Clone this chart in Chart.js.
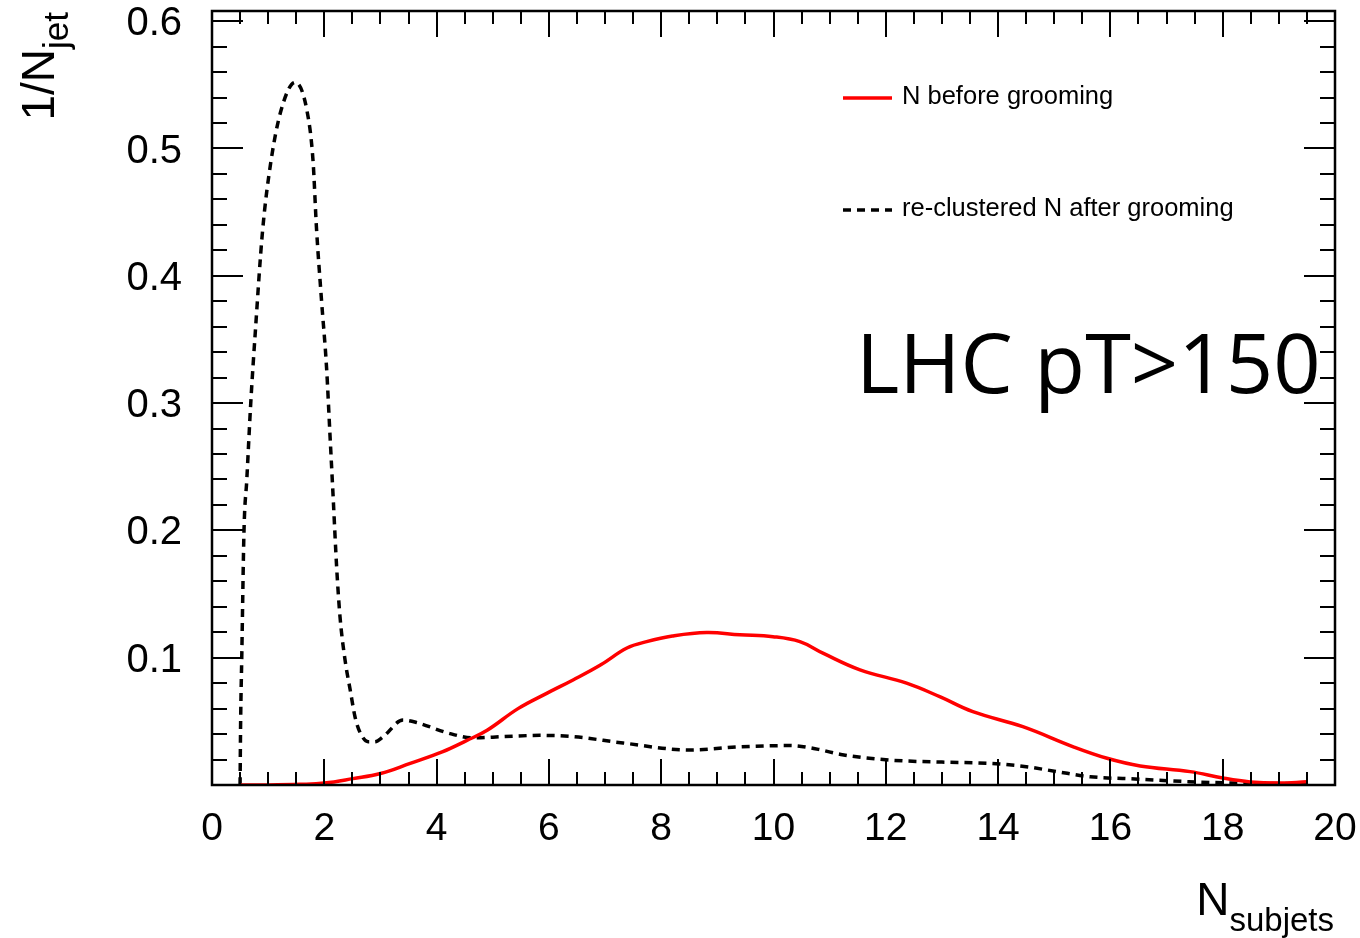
<!DOCTYPE html>
<html>
<head>
<meta charset="utf-8">
<script src="https://cdn.jsdelivr.net/npm/chart.js@4.4.0/dist/chart.umd.min.js"></script>
<style>
  html, body { margin: 0; padding: 0; background: #ffffff; }
  #wrap { width: 1360px; height: 938px; }
</style>
</head>
<body>
<div id="wrap"><canvas id="c" width="1360" height="938"></canvas></div>
<script>
// Subjet multiplicity, normalised per jet
const beforeX = [0.5, 1.0, 1.57, 2.0, 2.51, 3.0, 3.53, 4.1, 4.54, 4.9, 5.45, 5.96, 6.43, 6.91, 7.39, 7.74, 8.2, 8.81, 9.4, 9.99, 10.47, 10.88, 11.54, 12.37, 12.96, 13.55, 14.44, 15.34, 15.94, 16.53, 17.42, 18.0, 18.49, 19.0, 19.5];
const beforeY = [0, 0, 0.0005, 0.0015, 0.005, 0.009, 0.017, 0.026, 0.035, 0.043, 0.06, 0.072, 0.0825, 0.094, 0.1076, 0.1126, 0.117, 0.1197, 0.118, 0.1165, 0.1126, 0.1036, 0.0905, 0.080, 0.0694, 0.0576, 0.0458, 0.030, 0.021, 0.015, 0.0105, 0.0055, 0.0024, 0.0015, 0.0025];

const afterX = [0.5, 0.51, 0.53, 0.57, 0.62, 0.69, 0.77, 0.9, 1.05, 1.23, 1.48, 1.69, 1.8, 1.86, 1.95, 2.04, 2.1, 2.16, 2.22, 2.28, 2.37, 2.46, 2.55, 2.64, 2.78, 2.9, 3.05, 3.4, 3.65, 4.19, 4.65, 5.2, 5.84, 6.43, 7.32, 8.5, 9.4, 10.3, 10.8, 11.2, 12.07, 13.0, 13.55, 14.03, 14.5, 15.05, 15.64, 16.5, 17.4, 18.3, 19.5];
const afterY = [0, 0.05, 0.1, 0.2, 0.24, 0.3, 0.355, 0.435, 0.49, 0.53, 0.552, 0.53, 0.49, 0.438, 0.381, 0.328, 0.276, 0.224, 0.171, 0.132, 0.098, 0.075, 0.053, 0.041, 0.034, 0.034, 0.038, 0.051, 0.049, 0.041, 0.037, 0.038, 0.039, 0.038, 0.033, 0.0275, 0.030, 0.031, 0.028, 0.024, 0.0196, 0.018, 0.0175, 0.0165, 0.0144, 0.0105, 0.0065, 0.0046, 0.0026, 0.0015, 0.001];

const seriesNames = ['N before grooming', 're-clustered N after grooming'];
const xTickValues = [0, 2, 4, 6, 8, 10, 12, 14, 16, 18, 20];
const yTickValues = [0.1, 0.2, 0.3, 0.4, 0.5, 0.6];
const xTitle = ['N', 'subjets'];
const yTitle = ['1/N', 'jet'];
const annotationText = 'LHC pT>150';

const LABEL_FONT = 'Liberation Sans, Arial, Helvetica, sans-serif';

function pts(xs, ys) { return xs.map((x, i) => ({ x: x, y: ys[i] })); }

// ROOT-style frame with inward ticks on all four sides, titles, legend and caption
const frameDecor = {
  id: 'frameDecor',
  afterDraw(chart) {
    const ctx = chart.ctx;
    const a = chart.chartArea;
    const xs = chart.scales.x, ys = chart.scales.y;
    ctx.save();
    ctx.strokeStyle = '#000';
    ctx.lineCap = 'butt';

    // ticks
    ctx.lineWidth = 2;
    ctx.beginPath();
    for (let i = 0; i <= 40; i++) {
      const v = i * 0.5;
      const px = Math.round(xs.getPixelForValue(v));
      const len = (i % 4 === 0) ? 26 : 13;
      ctx.moveTo(px, a.bottom); ctx.lineTo(px, a.bottom - len);
      ctx.moveTo(px, a.top); ctx.lineTo(px, a.top + len);
    }
    for (let i = 0; i <= 30; i++) {
      const v = i * 0.02;
      const py = Math.round(ys.getPixelForValue(v));
      const len = (i % 5 === 0) ? 31 : 15;
      ctx.moveTo(a.left, py); ctx.lineTo(a.left + len, py);
      ctx.moveTo(a.right, py); ctx.lineTo(a.right - len, py);
    }
    ctx.stroke();

    // frame
    ctx.lineWidth = 2.5;
    ctx.strokeRect(a.left, a.top, a.right - a.left, a.bottom - a.top);

    ctx.fillStyle = '#000';
    ctx.textAlign = 'left';
    ctx.textBaseline = 'alphabetic';

    // x title, right-aligned to the frame
    ctx.font = '46px ' + LABEL_FONT;
    const wN = ctx.measureText(xTitle[0]).width;
    ctx.font = '33px ' + LABEL_FONT;
    const wSub = ctx.measureText(xTitle[1]).width;
    const xStart = a.right - 1 - wN - wSub;
    ctx.font = '46px ' + LABEL_FONT;
    ctx.fillText(xTitle[0], xStart, 915);
    ctx.font = '33px ' + LABEL_FONT;
    ctx.fillText(xTitle[1], xStart + wN, 931);

    // y title, rotated, ending near the top of the frame
    ctx.font = '46px ' + LABEL_FONT;
    const w1 = ctx.measureText(yTitle[0]).width;
    ctx.font = '35px ' + LABEL_FONT;
    const w2 = ctx.measureText(yTitle[1]).width;
    ctx.save();
    ctx.translate(54, 12 + w1 + w2);
    ctx.rotate(-Math.PI / 2);
    ctx.font = '46px ' + LABEL_FONT;
    ctx.fillText(yTitle[0], 0, 0);
    ctx.font = '35px ' + LABEL_FONT;
    ctx.fillText(yTitle[1], w1, 14);
    ctx.restore();

    // legend
    const ds = chart.data.datasets;
    const rows = [98, 210];
    ctx.font = '25.5px ' + LABEL_FONT;
    ctx.textBaseline = 'middle';
    ds.forEach((d, i) => {
      ctx.save();
      ctx.strokeStyle = d.borderColor;
      ctx.lineWidth = d.borderWidth;
      ctx.setLineDash(d.borderDash || []);
      ctx.beginPath();
      ctx.moveTo(843, rows[i]);
      ctx.lineTo(892, rows[i]);
      ctx.stroke();
      ctx.restore();
      ctx.fillText(d.label, 902, rows[i] - 1);
    });

    // caption
    ctx.textBaseline = 'alphabetic';
    ctx.font = '83px "Open Sans", "Noto Sans", sans-serif';
    ctx.fillText(annotationText, 856, 393);

    ctx.restore();
  }
};

new Chart(document.getElementById('c'), {
  type: 'line',
  data: {
    datasets: [
      {
        label: seriesNames[0],
        data: pts(beforeX, beforeY),
        borderColor: '#ff0000',
        borderWidth: 3.5,
        pointRadius: 0,
        tension: 0.4,
        fill: false
      },
      {
        label: seriesNames[1],
        data: pts(afterX, afterY),
        borderColor: '#000000',
        borderWidth: 3.5,
        borderDash: [8, 6],
        pointRadius: 0,
        cubicInterpolationMode: 'monotone',
        fill: false
      }
    ]
  },
  options: {
    responsive: false,
    animation: false,
    devicePixelRatio: 1,
    layout: { padding: { top: 11, right: 25, bottom: 0, left: 0 } },
    plugins: { legend: { display: false }, tooltip: { enabled: false } },
    scales: {
      x: {
        type: 'linear',
        min: 0,
        max: 20,
        afterBuildTicks(scale) { scale.ticks = xTickValues.map(v => ({ value: v })); },
        afterFit(scale) { scale.height = 153; scale.paddingLeft = 0; scale.paddingRight = 0; },
        ticks: {
          autoSkip: false,
          maxRotation: 0,
          minRotation: 0,
          padding: 21,
          color: '#000',
          font: { family: LABEL_FONT, size: 39 },
          callback: v => String(v)
        },
        grid: { display: false, drawTicks: false },
        border: { display: false }
      },
      y: {
        type: 'linear',
        min: 0,
        max: 0.608,
        afterBuildTicks(scale) { scale.ticks = yTickValues.map(v => ({ value: v })); },
        afterFit(scale) { scale.width = 212; scale.paddingTop = 0; scale.paddingBottom = 0; },
        ticks: {
          autoSkip: false,
          padding: 30,
          labelOffset: 3,
          color: '#000',
          font: { family: LABEL_FONT, size: 40 },
          callback: v => v.toFixed(1)
        },
        grid: { display: false, drawTicks: false },
        border: { display: false }
      }
    }
  },
  plugins: [frameDecor]
});
</script>
</body>
</html>
